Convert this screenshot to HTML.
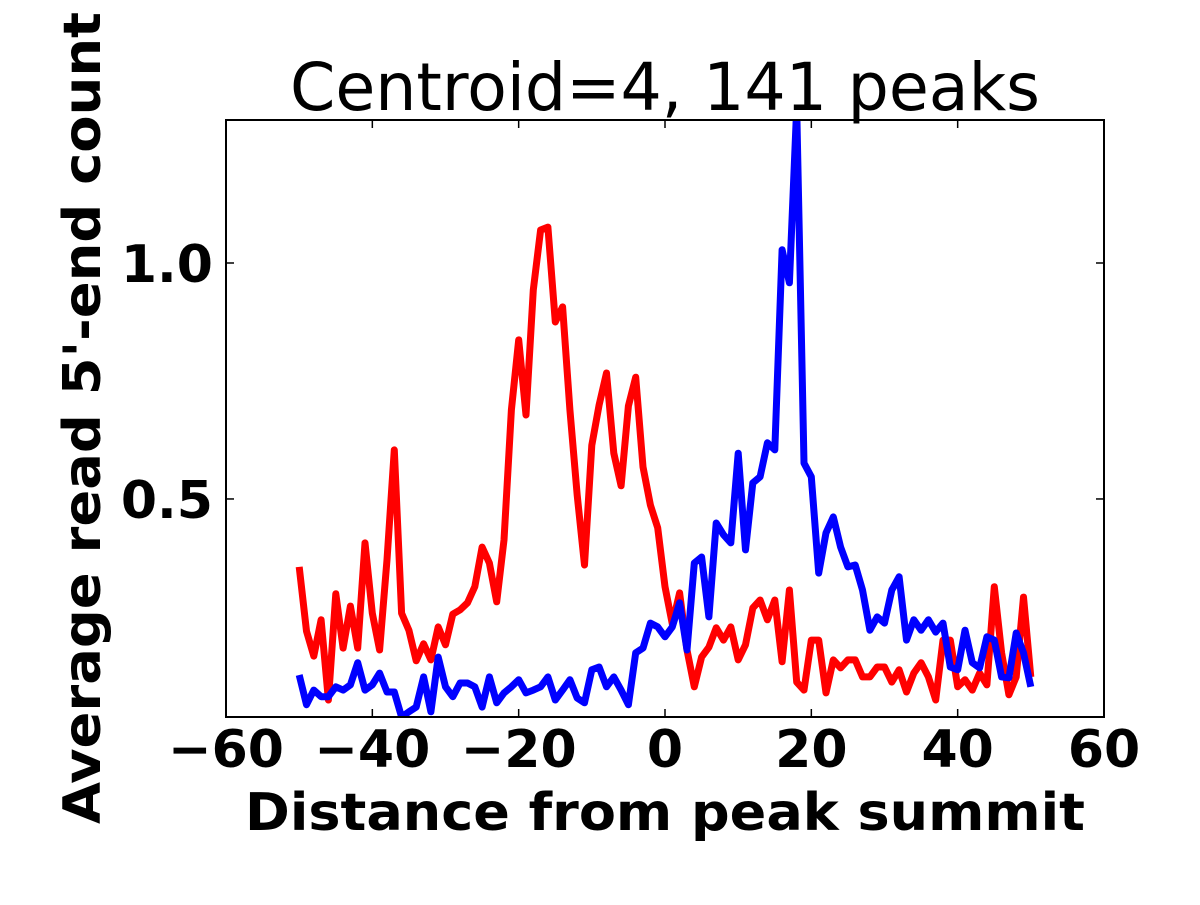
<!DOCTYPE html>
<html><head><meta charset="utf-8"><style>
body{margin:0;background:#fff}
svg text{font-family:"DejaVu Sans","Liberation Sans",sans-serif}
</style></head><body>
<svg id="chart" width="1200" height="900" viewBox="0 0 1200 900" xmlns="http://www.w3.org/2000/svg">
<defs><clipPath id="plotclip"><rect x="226" y="120" width="878" height="597"/></clipPath></defs>
<rect width="1200" height="900" fill="#fff"/>
<text x="665" y="110" font-size="66" text-anchor="middle" textLength="750" lengthAdjust="spacingAndGlyphs">Centroid=4, 141 peaks</text>
<g id="series" clip-path="url(#plotclip)"></g>
<rect x="226" y="120" width="878" height="597" fill="none" stroke="#000" stroke-width="2"/>
<g id="ticks"></g>
<text x="665" y="830" font-size="52" font-weight="bold" text-anchor="middle" textLength="840" lengthAdjust="spacingAndGlyphs">Distance from peak summit</text>
<text transform="translate(100,418) rotate(-90)" font-size="52" font-weight="bold" text-anchor="middle" textLength="812" lengthAdjust="spacingAndGlyphs">Average read 5'-end count</text>
</svg>
<script>
const xValues = [];
for (let i = -50; i <= 50; i++) xValues.push(i);
const redValues = [0.356,0.220,0.167,0.244,0.074,0.299,0.184,0.273,0.184,0.407,0.258,0.180,0.371,0.604,0.258,0.222,0.157,0.193,0.159,0.229,0.191,0.256,0.265,0.280,0.314,0.398,0.364,0.282,0.413,0.689,0.837,0.678,0.943,1.070,1.076,0.875,0.907,0.689,0.508,0.360,0.614,0.699,0.767,0.597,0.528,0.697,0.758,0.568,0.487,0.439,0.314,
0.235,0.301,0.180,0.102,0.165,0.186,0.227,0.201,0.229,0.159,0.191,0.269,0.286,0.244,0.286,0.155,0.307,0.112,0.095,0.201,0.201,0.089,0.159,0.142,0.159,0.159,0.123,0.123,0.144,0.144,0.112,0.138,0.091,0.131,0.153,0.123,0.074,0.201,0.201,0.102,0.117,0.095,0.131,0.106,0.314,0.174,0.085,0.123,0.292,0.123];
const blueValues = [0.127,0.064,0.095,0.081,0.081,0.102,0.095,0.106,0.153,0.095,0.106,0.131,0.091,0.091,0.038,0.049,0.059,0.123,0.049,0.165,0.102,0.081,0.110,0.110,0.102,0.059,0.123,0.068,0.089,0.102,0.117,0.089,0.095,0.102,0.123,0.074,0.095,0.117,0.078,0.068,0.138,0.144,0.102,0.123,0.095,0.064,0.174,0.184,0.237,0.229,0.208,
0.229,0.280,0.180,0.364,0.377,0.250,0.449,0.424,0.407,0.597,0.392,0.534,0.547,0.619,0.604,1.028,0.958,1.330,0.576,0.547,0.343,0.428,0.462,0.398,0.356,0.360,0.307,0.222,0.250,0.237,0.307,0.335,0.201,0.244,0.222,0.244,0.218,0.237,0.144,0.138,0.222,0.153,0.142,0.208,0.201,0.123,0.121,0.216,0.174,0.102];
const xTicks = [-60,-40,-20,0,20,40,60];
const xTickLabels = ["\u221260","\u221240","\u221220","0","20","40","60"];
const yTicks = [0.5,1.0];
const yTickLabels = ["0.5","1.0"];

const X0=226,X1=1104,Y0=717,Y1=120, xmin=-60,xmax=60,ymin=0.038,ymax=1.303;
const sx=v=>X0+(v-xmin)/(xmax-xmin)*(X1-X0);
const sy=v=>Y0-(v-ymin)/(ymax-ymin)*(Y0-Y1);
const NS="http://www.w3.org/2000/svg";
const g=document.getElementById('series');
function line(vals,color,name){
  const p=document.createElementNS(NS,'polyline');
  p.setAttribute('points',vals.map((v,i)=>sx(xValues[i]).toFixed(1)+','+sy(v).toFixed(1)).join(' '));
  p.setAttribute('fill','none');p.setAttribute('stroke',color);p.setAttribute('stroke-width','7');
  p.setAttribute('stroke-linejoin','round');
  
  
  g.appendChild(p);
}
line(redValues,'#ff0000','red-series-line');
line(blueValues,'#0000ff','blue-series-line');
const t=document.getElementById('ticks');
xTicks.forEach((v,i)=>{
  const x=sx(v);
  [[Y0,Y0-8],[Y1,Y1+8]].forEach(([a,b])=>{
    const l=document.createElementNS(NS,'line');
    l.setAttribute('x1',x);l.setAttribute('x2',x);l.setAttribute('y1',a);l.setAttribute('y2',b);
    l.setAttribute('stroke','#000');l.setAttribute('stroke-width','1.5');
    
    
    t.appendChild(l);
  });
  const tx=document.createElementNS(NS,'text');
  tx.setAttribute('x',x);tx.setAttribute('y',767);tx.setAttribute('font-size','52');
  tx.setAttribute('font-weight','bold');tx.setAttribute('text-anchor','middle');
  tx.textContent=xTickLabels[i];
  
  
  t.appendChild(tx);
});
yTicks.forEach((v,i)=>{
  const y=sy(v);
  [[X0,X0+8],[X1,X1-8]].forEach(([a,b])=>{
    const l=document.createElementNS(NS,'line');
    l.setAttribute('x1',a);l.setAttribute('x2',b);l.setAttribute('y1',y);l.setAttribute('y2',y);
    l.setAttribute('stroke','#000');l.setAttribute('stroke-width','1.5');
    
    
    t.appendChild(l);
  });
  const tx=document.createElementNS(NS,'text');
  tx.setAttribute('x',213);tx.setAttribute('y',y+19);tx.setAttribute('font-size','52');
  tx.setAttribute('font-weight','bold');tx.setAttribute('text-anchor','end');
  tx.textContent=yTickLabels[i];
  
  
  t.appendChild(tx);
});
</script>
</body></html>
